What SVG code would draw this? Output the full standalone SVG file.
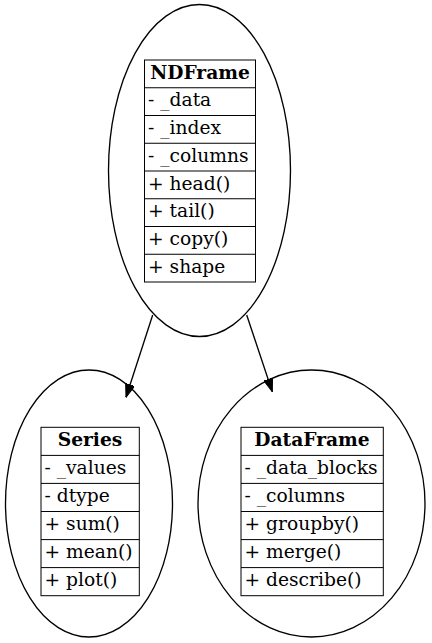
<svg xmlns="http://www.w3.org/2000/svg" width="432" height="643" viewBox="0 0 432 643">
<style>
.el{fill:none;stroke:#000;stroke-width:1.33}
.tb{fill:none;stroke:#000;stroke-width:1}
.t{font-family:"DejaVu Serif",serif;font-size:18.67px;fill:#000}
.h{font-weight:bold;text-anchor:middle}
.e{fill:none;stroke:#000;stroke-width:1.33}
</style>
<defs>
<marker id="ah" markerWidth="13.4" markerHeight="9.4" refX="13.3" refY="4.7" orient="auto" markerUnits="userSpaceOnUse">
<path d="M0,0 L13.3,4.7 L0,9.4 Z" fill="#000" stroke="#000" stroke-width="1"/>
</marker>
</defs>
<rect width="432" height="643" fill="#fff"/>
<g id="edges">
<path class="e" d="M152.7,315 L126,397.3" marker-end="url(#ah)"/>
<path class="e" d="M246.7,315 L272.3,391.7" marker-end="url(#ah)"/>
</g>
<g id="NDFrame">
<ellipse class="el" cx="199.5" cy="170.5" rx="91" ry="166"/>
<rect class="tb" x="144.5" y="60" width="111" height="222"/>
<path class="tb" d="M144.5,87.75H255.5M144.5,115.5H255.5M144.5,143.25H255.5M144.5,171H255.5M144.5,198.75H255.5M144.5,226.5H255.5M144.5,254.25H255.5"/>
<text class="t h" x="200" y="78.5">NDFrame</text>
<text class="t" x="148" y="106.3">- _data</text>
<text class="t" x="148" y="134">- _index</text>
<text class="t" x="148" y="161.8">- _columns</text>
<text class="t" x="148" y="189.5">+ head()</text>
<text class="t" x="148" y="217.3">+ tail()</text>
<text class="t" x="148" y="245">+ copy()</text>
<text class="t" x="148" y="272.8">+ shape</text>
</g>
<g id="Series">
<ellipse class="el" cx="89" cy="503.5" rx="83.5" ry="133.5"/>
<rect class="tb" x="41" y="427.3" width="98.3" height="168.4"/>
<path class="tb" d="M41,455.4H139.3M41,483.4H139.3M41,511.5H139.3M41,539.6H139.3M41,567.6H139.3"/>
<text class="t h" x="90" y="446">Series</text>
<text class="t" x="44.5" y="474">- _values</text>
<text class="t" x="44.5" y="502">- dtype</text>
<text class="t" x="44.5" y="530.2">+ sum()</text>
<text class="t" x="44.5" y="558.3">+ mean()</text>
<text class="t" x="44.5" y="586.3">+ plot()</text>
</g>
<g id="DataFrame">
<ellipse class="el" cx="311.5" cy="503.5" rx="113.5" ry="133.5"/>
<rect class="tb" x="241" y="427.3" width="142.3" height="168.4"/>
<path class="tb" d="M241,455.4H383.3M241,483.4H383.3M241,511.5H383.3M241,539.6H383.3M241,567.6H383.3"/>
<text class="t h" x="312" y="446">DataFrame</text>
<text class="t" x="244.5" y="474">- _data_blocks</text>
<text class="t" x="244.5" y="502">- _columns</text>
<text class="t" x="244.5" y="530.2">+ groupby()</text>
<text class="t" x="244.5" y="558.3">+ merge()</text>
<text class="t" x="244.5" y="586.3">+ describe()</text>
</g>
</svg>
